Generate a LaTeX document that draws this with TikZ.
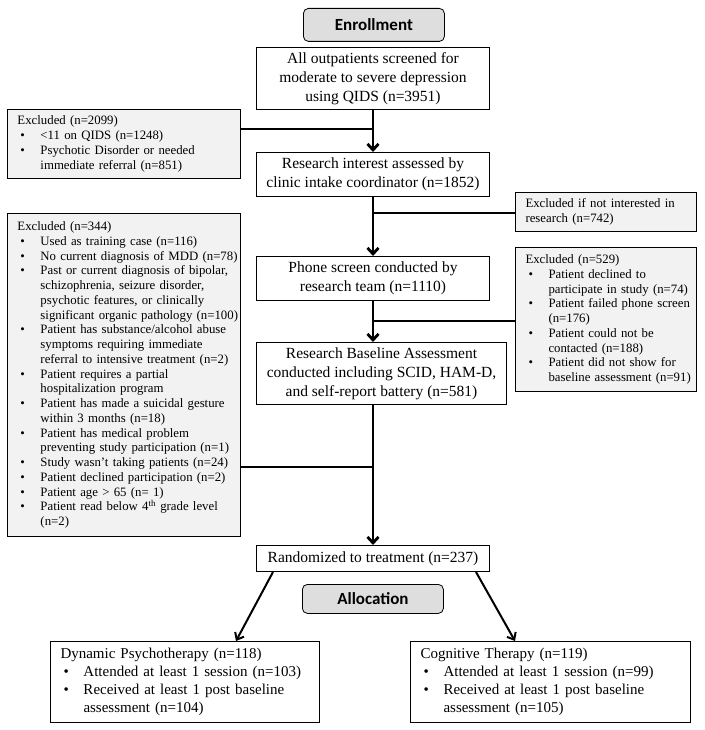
\documentclass[tikz,border=0pt]{standalone}
\usepackage{fontspec}
\setmainfont{Liberation Serif}
\newfontfamily\hdfont{Carlito}
\usetikzlibrary{arrows.meta}
\definecolor{exgray}{HTML}{F2F2F2}
\definecolor{hdgray}{HTML}{DEDEDE}
\newcommand{\mainf}{\fontsize{15.5}{19}\selectfont}
\newcommand{\smallf}{\fontsize{12.8}{14.75}\selectfont}
\newcommand{\armf}{\fontsize{15}{18}\selectfont}
% exclusion boxes (inner xsep 1pt): title, bullet item, continuation
\newcommand{\et}[1]{\hspace*{9pt}\mbox{#1}}
\newcommand{\ei}[1]{\makebox[32pt][l]{\hspace{12pt}\textbullet}\mbox{#1}}
\newcommand{\ec}[1]{\hspace*{32pt}\mbox{#1}}
% arm boxes (inner xsep 6pt)
\newcommand{\at}[1]{\hspace*{4pt}\mbox{#1}}
\newcommand{\ai}[1]{\makebox[27pt][l]{\hspace{7pt}\textbullet}\mbox{#1}}
\newcommand{\ac}[1]{\hspace*{27pt}\mbox{#1}}
\begin{document}
\begin{tikzpicture}[x=1pt,y=-1pt,
  box/.style={draw, line width=1pt, inner sep=0pt, align=center, font=\mainf, anchor=north west},
  exbox/.style={draw, line width=1pt, fill=exgray, inner xsep=1pt, inner ysep=0pt, align=left, font=\smallf, anchor=north west},
  armbox/.style={draw, line width=1pt, inner xsep=6pt, inner ysep=0pt, align=left, font=\armf, anchor=north west},
  phase/.style={draw, line width=0.8pt, rounded corners=5pt, fill=hdgray, inner sep=0pt, font=\hdfont\bfseries\fontsize{17}{20}\selectfont, anchor=north west},
  conn/.style={line width=2.8pt},
  arr/.style={line width=2.8pt, -{Straight Barb[length=6pt,width=11pt]}},
  darr/.style={line width=2pt, -{Straight Barb[length=6pt,width=10pt]}}
]
\useasboundingbox (0,0) rectangle (704,730);

\node[phase, minimum width=141pt, minimum height=33pt] (enr) at (303,8) {Enrollment};

\node[box, minimum width=233pt, minimum height=62pt] (A) at (256,47)
  {All outpatients screened for\\moderate to severe depression\\using QIDS (n=3951)};
\node[box, minimum width=233pt, minimum height=44pt] (B) at (256,152)
  {Research interest assessed by\\clinic intake coordinator (n=1852)};
\node[box, minimum width=233pt, minimum height=44pt] (C) at (256,256)
  {Phone screen conducted by\\research team (n=1110)};
\node[box, minimum width=250pt, minimum height=62pt] (D) at (256,342)
  {Research Baseline Assessment\\conducted including SCID, HAM-D,\\and self-report battery (n=581)};
\node[box, minimum width=233pt, minimum height=26pt] (E) at (256,545)
  {Randomized to treatment (n=237)};

\node[phase, minimum width=141pt, minimum height=29pt] (alloc) at (302,584) {Allocation};

\node[exbox, text width=231pt, minimum height=69pt] (x1) at (7,109)
  {\et{Excluded (n=2099)}\\
   \ei{<11 on QIDS (n=1248)}\\
   \ei{Psychotic Disorder or needed}\\
   \ec{immediate referral (n=851)}};
\node[exbox, text width=179pt, minimum height=39pt] (x2) at (515,192)
  {\et{Excluded if not interested in}\\\et{research (n=742)}};
\node[exbox, text width=179pt, minimum height=144pt] (x3) at (515,247)
  {\et{Excluded (n=529)}\\
   \ei{Patient declined to}\\
   \ec{participate in study (n=74)}\\
   \ei{Patient failed phone screen}\\
   \ec{(n=176)}\\
   \ei{Patient could not be}\\
   \ec{contacted (n=188)}\\
   \ei{Patient did not show for}\\
   \ec{baseline assessment (n=91)}};
\node[exbox, text width=231pt, minimum height=323pt] (x4) at (7,213)
  {\et{Excluded (n=344)}\\
   \ei{Used as training case (n=116)}\\
   \ei{No current diagnosis of MDD (n=78)}\\
   \ei{Past or current diagnosis of bipolar,}\\
   \ec{schizophrenia, seizure disorder,}\\
   \ec{psychotic features, or clinically}\\
   \ec{significant organic pathology (n=100)}\\
   \ei{Patient has substance/alcohol abuse}\\
   \ec{symptoms requiring immediate}\\
   \ec{referral to intensive treatment (n=2)}\\
   \ei{Patient requires a partial}\\
   \ec{hospitalization program}\\
   \ei{Patient has made a suicidal gesture}\\
   \ec{within 3 months (n=18)}\\
   \ei{Patient has medical problem}\\
   \ec{preventing study participation (n=1)}\\
   \ei{Study wasn’t taking patients (n=24)}\\
   \ei{Patient declined participation (n=2)}\\
   \ei{Patient age > 65 (n= 1)}\\
   \ei{Patient read below 4\textsuperscript{th} grade level}\\
   \ec{(n=2)}};

\node[armbox, text width=257pt, minimum height=81pt] (dp) at (50,641)
  {\at{Dynamic Psychotherapy (n=118)}\\
   \ai{Attended at least 1 session (n=103)}\\
   \ai{Received at least 1 post baseline}\\
   \ac{assessment (n=104)}};
\node[armbox, text width=268pt, minimum height=81pt] (ct) at (410,641)
  {\at{Cognitive Therapy (n=119)}\\
   \ai{Attended at least 1 session (n=99)}\\
   \ai{Received at least 1 post baseline}\\
   \ac{assessment (n=105)}};

\coordinate (j1) at (372.5,129);
\coordinate (j2) at (372.5,213);
\coordinate (j3) at (372.5,321);
\coordinate (j4) at (372.5,467);

\draw[arr] (A.south) -- (B.north);
\draw[arr] (B.south) -- (B.south |- C.north);
\draw[arr] (C.south) -- (C.south |- D.north);
\draw[arr] (C.south |- D.south) -- (E.north);

\draw[conn] (x1.east |- j1) -- (j1);
\draw[conn] (j2) -- (x2.west |- j2);
\draw[conn] (j3) -- (x3.west |- j3);
\draw[conn] (x4.east |- j4) -- (j4);

\draw[darr] ([xshift=17pt]E.south west) -- ([xshift=186pt]dp.north west);
\draw[darr] ([xshift=-14pt]E.south east) -- ([xshift=105pt]ct.north west);
\end{tikzpicture}
\end{document}
